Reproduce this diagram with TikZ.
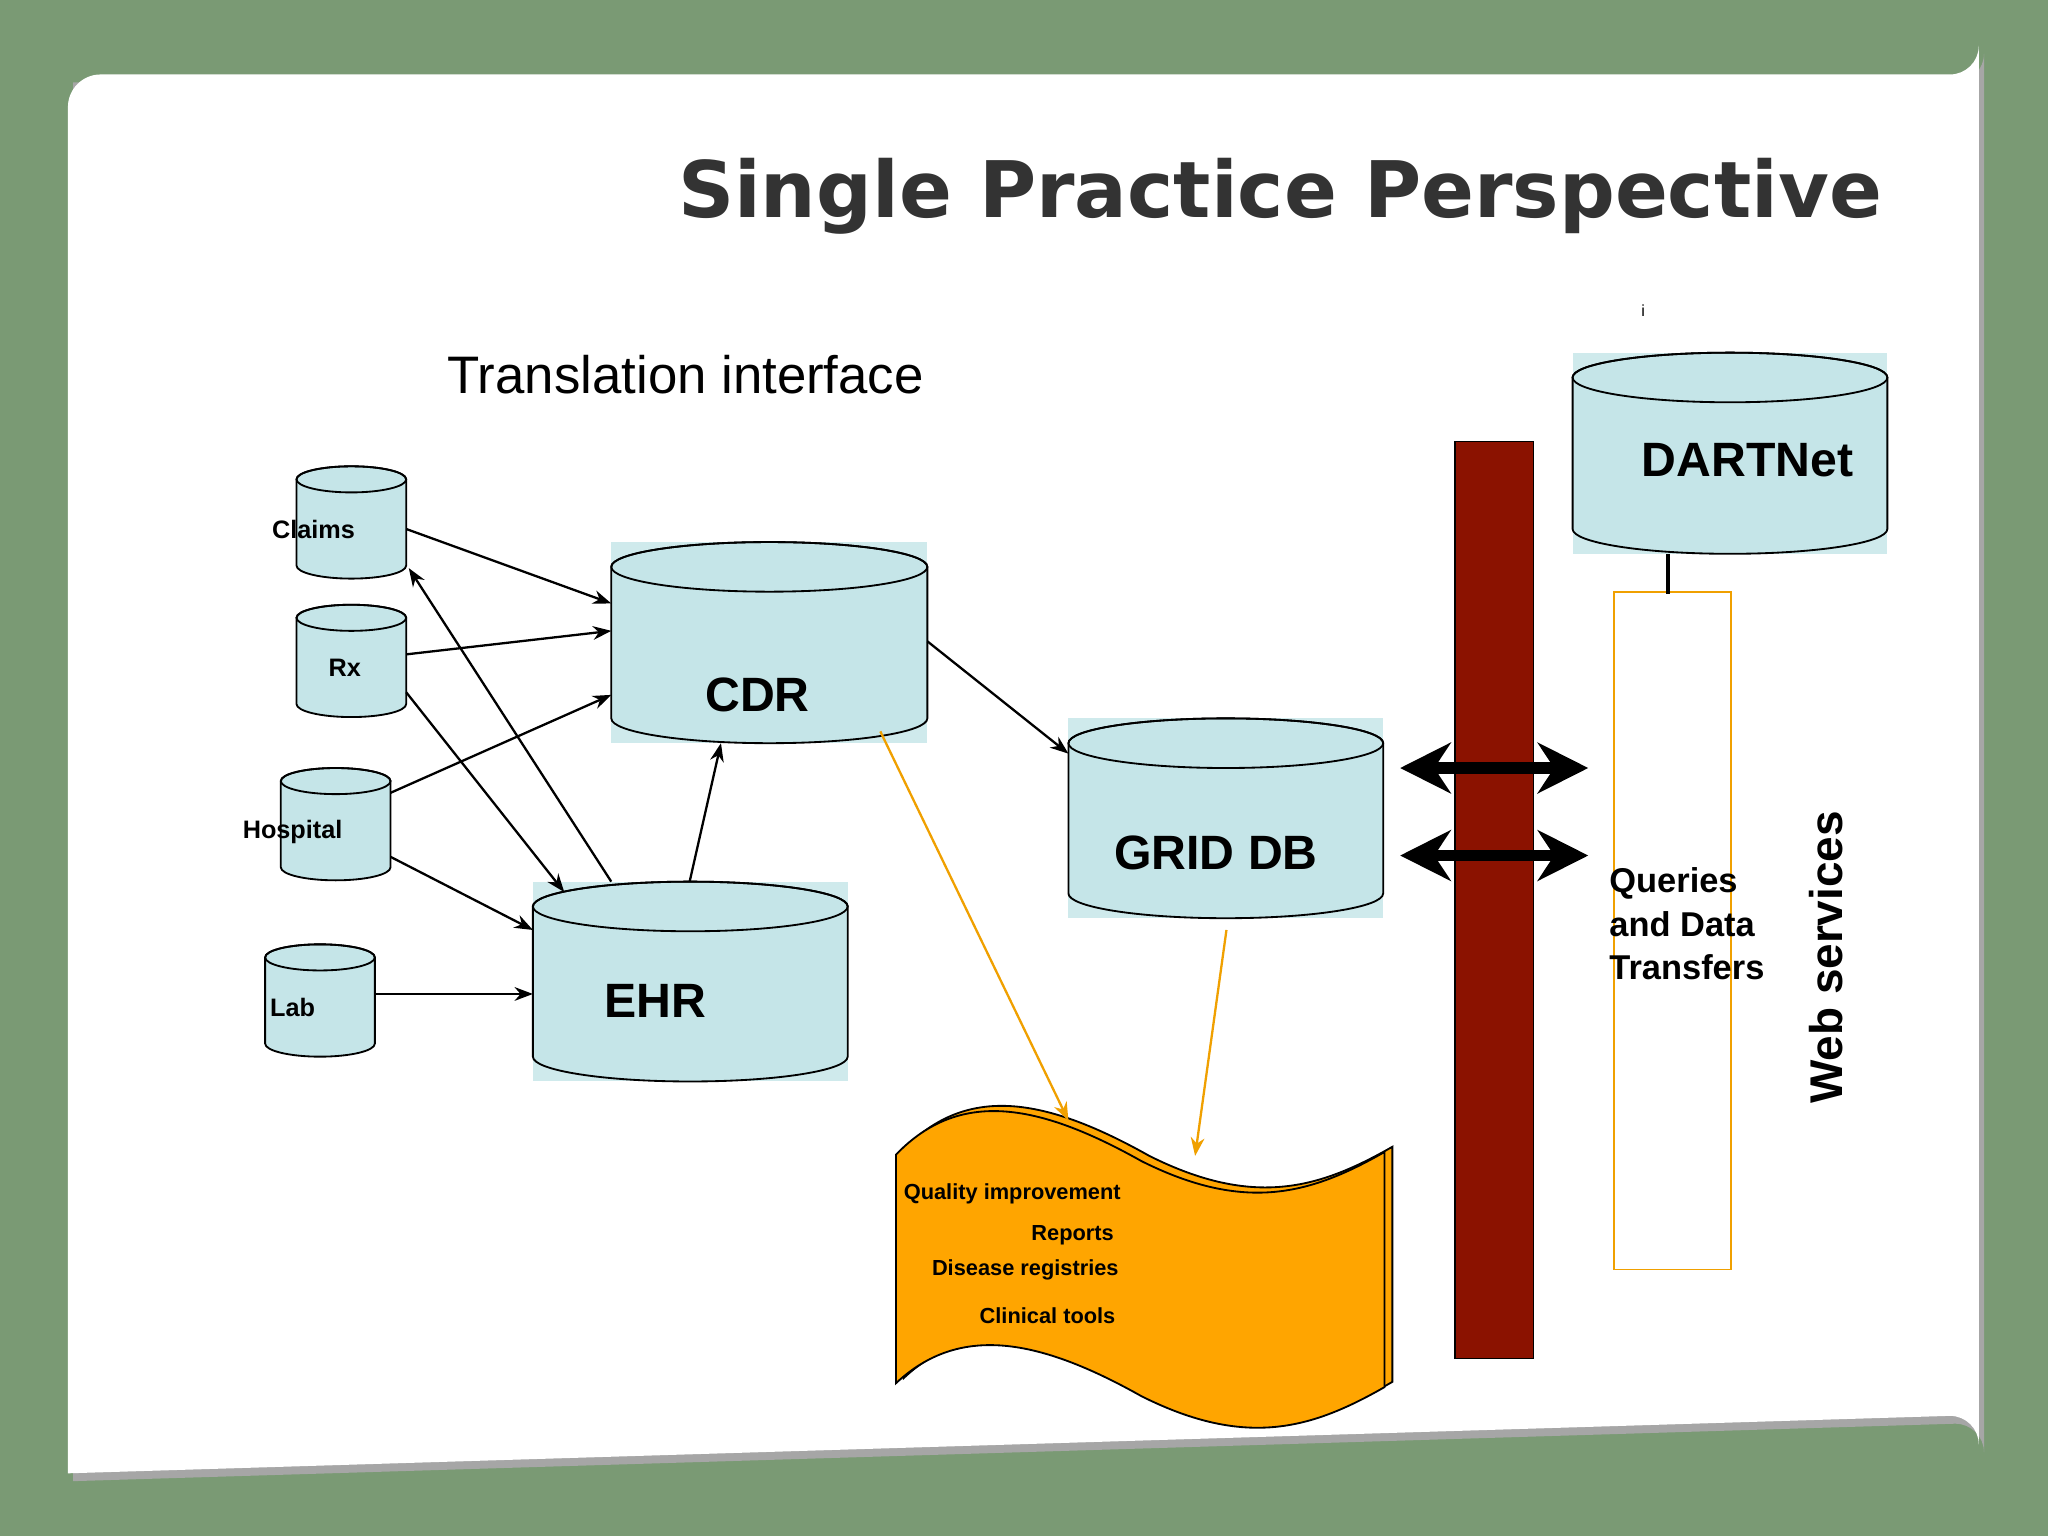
\documentclass[tikz,border=0pt]{standalone}
\usepackage{fontspec}
\setmainfont{Liberation Sans}
\newfontfamily\titlefont{DejaVu Sans}
\usetikzlibrary{arrows.meta}
\definecolor{bg}{HTML}{7A9A74}
\definecolor{cylf}{HTML}{C5E5E8}
\definecolor{cylb}{HTML}{CFEAEC}
\definecolor{barred}{HTML}{8B1200}
\definecolor{docor}{HTML}{FFA500}
\definecolor{oline}{HTML}{F0A000}
\newcommand\mycyl[5]{% x1 y1 x2 y2 ry
  \pgfmathsetmacro\rx{(#3-#1)/2}\pgfmathsetmacro\cx{(#3+#1)/2}
  \filldraw[fill=cylf,draw=black,line width=0.8pt] (#1,#2+#5) -- (#1,#4-#5) arc[start angle=180,end angle=0,x radius=\rx,y radius=#5] -- (#3,#2+#5) arc[start angle=0,end angle=-180,x radius=\rx,y radius=#5] -- cycle;
  \draw[line width=0.8pt] (\cx,#2+#5) ellipse[x radius=\rx,y radius=#5];
}
\tikzset{
  conn/.style={-{Stealth[length=8pt,width=6pt]},line width=1pt},
  oconn/.style={-{Stealth[length=8pt,width=6pt]},line width=1pt,draw=oline},
  slab/.style={font=\bfseries\fontsize{11}{13}\selectfont},
  blab/.style={font=\bfseries\fontsize{21}{24}\selectfont},
  dlab/.style={font=\bfseries\fontsize{9.5}{11}\selectfont},
  dbl/.style={{Stealth[length=22pt,width=22pt]}-{Stealth[length=22pt,width=22pt]},line width=5pt},
}
\begin{document}
\begin{tikzpicture}[x=0.02cm,y=-0.02cm]
\fill[bg] (0,0) rectangle (1568,1176);
\useasboundingbox (0,0) rectangle (1568,1176);
\fill[black!35] (56,63) -- (1497,63) arc[start angle=90,end angle=0,radius=22] -- (1519,1112) arc[start angle=0,end angle=-90,radius=22] -- (56,1134) -- cycle;
\fill[white] (52,82) arc[start angle=180,end angle=270,radius=25] -- (1493,57) arc[start angle=90,end angle=0,radius=22] -- (1515,1106) arc[start angle=0,end angle=-90,radius=22] -- (52,1128) -- cycle;

\node[font=\titlefont\bfseries\fontsize{34}{40}\selectfont,text=black!80] (title) at (980,150) {Single Practice Perspective};
\node[font=\fontsize{23}{27}\selectfont] (ti) at (525,287) {Translation interface};
\node[font=\fontsize{7}{8}\selectfont] (i) at (1258,238) {i};

% background rectangles
\fill[cylb] (468,415) rectangle (710,569);
\fill[cylb] (408,675) rectangle (649,828);
\fill[cylb] (818,550) rectangle (1059,703);
\fill[cylb] (1204,270) rectangle (1445,424);

\mycyl{227}{357}{311}{443}{10}
\mycyl{227}{463}{311}{549}{10}
\mycyl{215}{588}{299}{674}{10}
\mycyl{203}{723}{287}{809}{10}
\mycyl{468}{415}{710}{569}{19}
\mycyl{408}{675}{649}{828}{19}
\mycyl{818}{550}{1059}{703}{19}
\mycyl{1204}{270}{1445}{424}{19}

\node[slab] (claims) at (240,405) {Claims};
\node[slab] (rx) at (264,511) {Rx};
\node[slab] (hosp) at (224,637) {Hospital};
\node[slab] (lab) at (224,771) {Lab};
\node[blab] (cdr) at (580,532) {CDR};
\node[blab] (ehr) at (502,766) {EHR};
\node[blab] (grid) at (931,653) {GRID DB};
\node[blab] (dart) at (1338,352) {DARTNet};

\coordinate (c1) at (311,405); \coordinate (c1e) at (468,462);
\coordinate (r1) at (311,501); \coordinate (r1e) at (468,483);
\coordinate (h1) at (299,607); \coordinate (h1e) at (468,532);
\coordinate (r2) at (311,530); \coordinate (r2e) at (432,683);
\coordinate (e1) at (468,675); \coordinate (e1e) at (313,435);
\coordinate (h2) at (299,656); \coordinate (h2e) at (408,712);
\coordinate (l1) at (287,761); \coordinate (l1e) at (408,761);
\coordinate (e2) at (528,675); \coordinate (e2e) at (552,569);
\coordinate (cg) at (710,491); \coordinate (cge) at (818,577);
\draw[conn] (c1) -- (c1e);
\draw[conn] (r1) -- (r1e);
\draw[conn] (h1) -- (h1e);
\draw[conn] (r2) -- (r2e);
\draw[conn] (e1) -- (e1e);
\draw[conn] (h2) -- (h2e);
\draw[conn] (l1) -- (l1e);
\draw[conn] (e2) -- (e2e);
\draw[conn] (cg) -- (cge);

% document
\filldraw[fill=docor,draw=black,line width=0.8pt] (692,880) .. controls (740,830) and (800,840) .. (880,885) .. controls (960,925) and (1010,910) .. (1066,878) -- (1066,1058) .. controls (1010,1090) and (960,1105) .. (880,1065) .. controls (800,1020) and (740,1010) .. (692,1055) -- cycle;
\filldraw[fill=docor,draw=black,line width=0.8pt] (686,884) .. controls (734,834) and (794,844) .. (874,889) .. controls (954,929) and (1004,914) .. (1060,882) -- (1060,1062) .. controls (1004,1094) and (954,1109) .. (874,1069) .. controls (794,1024) and (734,1014) .. (686,1059) -- cycle;
\node[dlab] (q) at (775,914) {Quality improvement};
\node[dlab,anchor=east] (rep) at (859,946) {Reports};
\node[dlab] (dis) at (785,972) {Disease registries};
\node[dlab] (cli) at (802,1007) {Clinical tools};
\coordinate (o1) at (674,560); \coordinate (o1e) at (818,858);
\coordinate (o2) at (939,712); \coordinate (o2e) at (915,885);
\draw[oconn] (o1) -- (o1e);
\draw[oconn] (o2) -- (o2e);

% bar and web services
\fill[barred] (1114,338) rectangle (1174,1040);
\draw[black,line width=0.6pt] (1114,338) rectangle (1174,1040);
\coordinate (a1) at (1072,588); \coordinate (a1e) at (1216,588);
\coordinate (a2) at (1072,655); \coordinate (a2e) at (1216,655);
\draw[dbl] (a1) -- (a1e);
\draw[dbl] (a2) -- (a2e);
\draw[oline,line width=0.8pt] (1236,453) rectangle (1325,972);
\coordinate (d1) at (1277,424); \coordinate (d1e) at (1277,455);
\draw[line width=1.5pt] (d1) -- (d1e);
\node[font=\bfseries\fontsize{15}{19}\selectfont,align=left,anchor=north west] (qd) at (1226,658) {Queries\\and Data\\Transfers};
\node[font=\bfseries\fontsize{20}{24}\selectfont,rotate=90] (ws) at (1398,733) {Web services};
\end{tikzpicture}
\end{document}
